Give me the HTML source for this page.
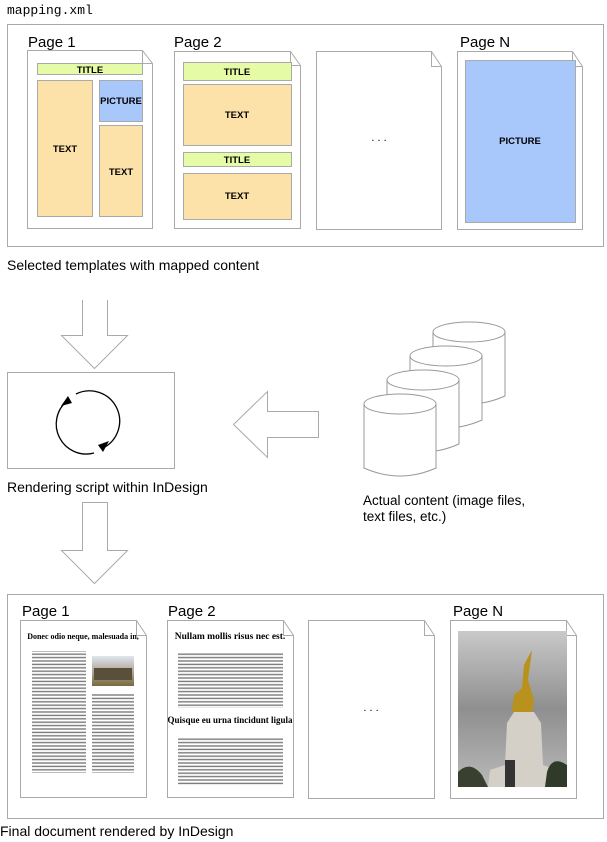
<!DOCTYPE html>
<html><head><meta charset="utf-8"><style>
html,body{margin:0;padding:0;background:#fff;}
svg{display:block;}
text{font-family:"Liberation Sans",sans-serif;fill:#000;}
.s{font-family:"Liberation Serif",serif;font-weight:bold;}
</style></head><body>
<svg width="607" height="842" viewBox="0 0 607 842" xmlns="http://www.w3.org/2000/svg">
<defs>
<pattern id="tl" width="6" height="3.4" patternUnits="userSpaceOnUse">
<rect x="0" y="0.7" width="6" height="1.4" fill="#222" opacity="0.6"/>
</pattern>
<linearGradient id="sky" x1="0" y1="0" x2="0" y2="1">
<stop offset="0" stop-color="#c9c9c9"/><stop offset="0.5" stop-color="#8f8f8f"/><stop offset="1" stop-color="#b9b9b9"/>
</linearGradient>
<linearGradient id="sky2" x1="0" y1="0" x2="0" y2="1">
<stop offset="0" stop-color="#dfe6ee"/><stop offset="0.5" stop-color="#b0a89a"/><stop offset="1" stop-color="#7a6a40"/>
</linearGradient>
</defs>
<text x="7" y="14" style="font-family:'Liberation Mono',monospace" font-size="13">mapping.xml</text>

<rect x="7.5" y="24.5" width="596" height="222" fill="none" stroke="#aaa"/>
<g fill="#fff" stroke="#aaa">
<path d="M27.5 50.5 H142.5 L152.5 63.5 V228.5 H27.5 Z"/><path d="M142.5 50.5 V63.5 H152.5" fill="none"/>
<path d="M174.5 51.5 H290.5 L300.5 65.5 V228.5 H174.5 Z"/><path d="M290.5 51.5 V65.5 H300.5" fill="none"/>
<path d="M316.5 51.5 H431.5 L441.5 66.5 V229.5 H316.5 Z"/><path d="M431.5 51.5 V66.5 H441.5" fill="none"/>
<path d="M457.5 51.5 H572.5 L582.5 66.5 V229.5 H457.5 Z"/><path d="M572.5 51.5 V66.5 H582.5" fill="none"/>
</g>
<g stroke="#aaa">
<rect x="37.5" y="63.5" width="105" height="11" fill="#e6fba6"/>
<rect x="37.5" y="80.5" width="55" height="136" fill="#fce2a8"/>
<rect x="99.5" y="80.5" width="43" height="41" fill="#a8c8fb"/>
<rect x="99.5" y="125.5" width="43" height="91" fill="#fce2a8"/>
<rect x="183.5" y="62.5" width="108" height="18" fill="#e6fba6"/>
<rect x="183.5" y="84.5" width="108" height="61" fill="#fce2a8"/>
<rect x="183.5" y="152.5" width="108" height="14" fill="#e6fba6"/>
<rect x="183.5" y="173.5" width="108" height="46" fill="#fce2a8"/>
<rect x="465.5" y="60.5" width="110" height="162" fill="#a8c8fb"/>
</g>
<g font-size="9.5" text-anchor="middle" font-weight="bold" style="font-weight:600">
<text x="90" y="73">TITLE</text><text x="65" y="152">TEXT</text><text x="121" y="104">PICTURE</text><text x="121" y="175">TEXT</text>
<text x="237" y="75">TITLE</text><text x="237" y="118">TEXT</text><text x="237" y="163">TITLE</text><text x="237" y="199">TEXT</text>
<text x="520" y="144">PICTURE</text>
</g>
<text x="379" y="141" font-size="11" text-anchor="middle">. . .</text>
<g font-size="15"><text x="28" y="47">Page 1</text><text x="174" y="47">Page 2</text><text x="460" y="47">Page N</text></g>
<text x="7" y="270" font-size="14">Selected templates with mapped content</text>

<g fill="#fff" stroke="#aaa">
<path d="M82.5 300 V335.5 H61.5 L94.5 368.5 L127.5 335.5 H107.5 V300"/>
<path d="M82.5 502.5 V550.5 H61.5 L94.5 583.5 L127.5 550.5 H107.5 V502.5 Z"/>
<path d="M318.5 411.5 H267.5 V391.5 L233.5 424.5 L267.5 457.5 V437.5 H318.5 Z"/>
</g>
<rect x="7.5" y="372.5" width="167" height="96" fill="#fff" stroke="#aaa"/>
<g fill="none" stroke="#000" stroke-width="1.3">
<path d="M76 394 A30 30 0 0 1 103 448"/>
<path d="M94 453 A30 30 0 0 1 67 401"/>
</g>
<path d="M109 441 L103 452 L98 445 Z" fill="#000"/>
<path d="M61 406 L68 396 L72 403 Z" fill="#000"/>
<text x="7" y="492" font-size="14">Rendering script within InDesign</text>

<g fill="#fff" stroke="#999">
<g transform="translate(69,-72)"><path d="M364 404 V468 Q400 484 436 468 V404"/><ellipse cx="400" cy="404" rx="36" ry="10"/></g>
<g transform="translate(46,-48)"><path d="M364 404 V468 Q400 484 436 468 V404"/><ellipse cx="400" cy="404" rx="36" ry="10"/></g>
<g transform="translate(23,-24)"><path d="M364 404 V468 Q400 484 436 468 V404"/><ellipse cx="400" cy="404" rx="36" ry="10"/></g>
<g><path d="M364 404 V468 Q400 484 436 468 V404"/><ellipse cx="400" cy="404" rx="36" ry="10"/></g>
</g>
<text x="363" y="505" font-size="13.5">Actual content (image files,</text>
<text x="363" y="521" font-size="13.5">text files, etc.)</text>

<rect x="7.5" y="594.5" width="596" height="224" fill="none" stroke="#aaa"/>
<g fill="#fff" stroke="#aaa">
<path d="M20.5 620.5 H136.5 L146.5 635.5 V797.5 H20.5 Z"/><path d="M136.5 620.5 V635.5 H146.5" fill="none"/>
<path d="M167.5 620.5 H283.5 L293.5 635.5 V797.5 H167.5 Z"/><path d="M283.5 620.5 V635.5 H293.5" fill="none"/>
<path d="M308.5 620.5 H424.5 L434.5 635.5 V798.5 H308.5 Z"/><path d="M424.5 620.5 V635.5 H434.5" fill="none"/>
<path d="M450.5 620.5 H566.5 L576.5 635.5 V798.5 H450.5 Z"/><path d="M566.5 620.5 V635.5 H576.5" fill="none"/>
</g>
<g font-size="15"><text x="22" y="616">Page 1</text><text x="168" y="616">Page 2</text><text x="453" y="616">Page N</text></g>
<text class="s" x="83" y="639" font-size="8" text-anchor="middle">Donec odio neque, malesuada in,</text>
<rect x="32" y="651" width="54" height="122" fill="url(#tl)"/>
<rect x="92" y="694" width="42" height="79" fill="url(#tl)"/>
<rect x="92" y="656" width="42" height="30" fill="url(#sky2)"/>
<rect x="94" y="668" width="38" height="12" fill="#5a4f3a"/>
<text class="s" x="230" y="639" font-size="9.5" text-anchor="middle">Nullam mollis risus nec est.</text>
<rect x="178" y="653" width="105" height="55" fill="url(#tl)"/>
<text class="s" x="230" y="723" font-size="9" text-anchor="middle">Quisque eu urna tincidunt ligula</text>
<rect x="178" y="737" width="105" height="48" fill="url(#tl)"/>
<text x="371" y="711" font-size="11" text-anchor="middle">. . .</text>
<rect x="458" y="631" width="109" height="156" fill="url(#sky)"/>
<path d="M488 787 L490 770 L505 765 L507 723 L514 712 L534 712 L541 723 L543 765 L556 770 L560 787 Z" fill="#d4d0c8"/>
<rect x="505" y="760" width="10" height="27" fill="#333"/>
<path d="M458 787 V772 Q470 760 482 775 L488 787 Z" fill="#3a4030"/>
<path d="M567 787 V765 Q552 755 547 772 L545 787 Z" fill="#2f3a28"/>
<path d="M512 712 L514 695 L522 688 L524 665 L532 650 L528 680 L534 700 L532 712 Z" fill="#b8921c"/>
<text x="0" y="836" font-size="14">Final document rendered by InDesign</text>
</svg>
</body></html>
